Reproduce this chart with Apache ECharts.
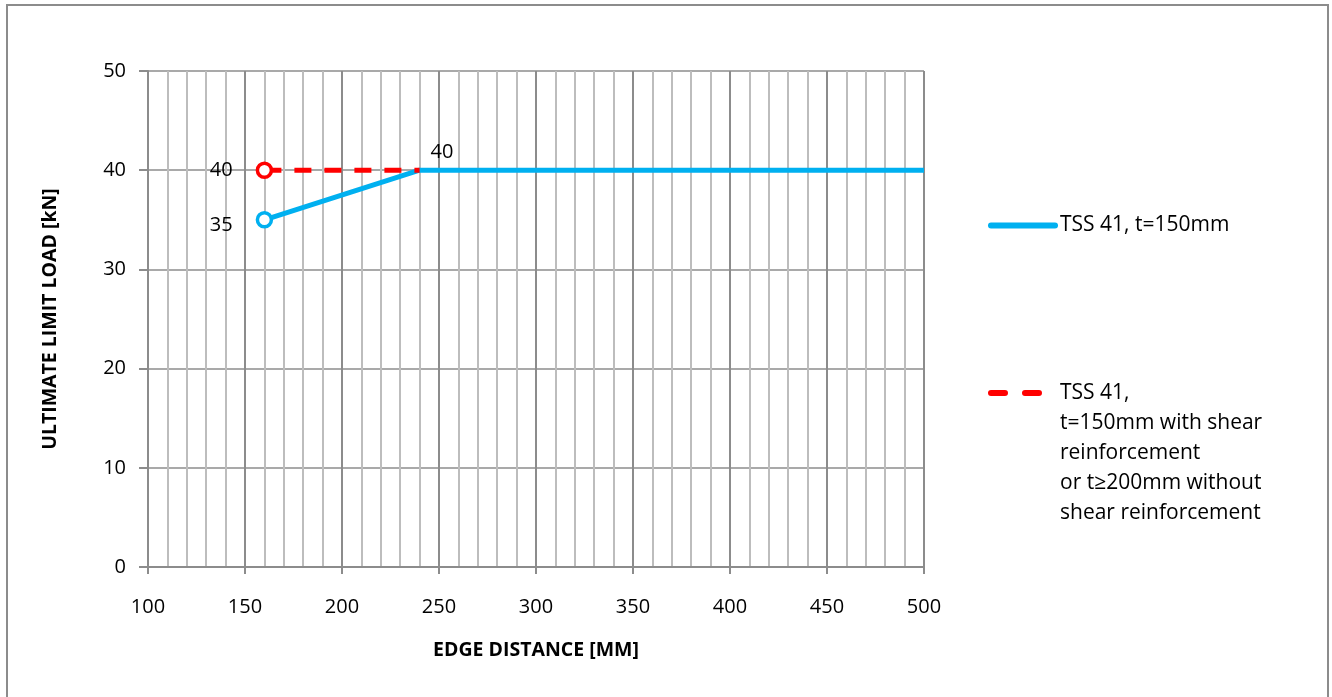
<!DOCTYPE html>
<html>
<head>
<meta charset="utf-8">
<script src="https://cdn.jsdelivr.net/npm/echarts@6/dist/echarts.min.js"></script>
<style>
html,body{margin:0;padding:0;background:#fff;}
#chart{width:1332px;height:697px;}
</style>
</head>
<body>
<div id="chart"></div>
<script>
// ---- data ----
const seriesNames = ['TSS 41, t=150mm', 'TSS 41,\nt=150mm with shear\nreinforcement\nor t\u2265200mm without\nshear reinforcement'];
const blueX = [160, 240, 500];
const blueY = [35, 40, 40];
const redX = [160, 240];
const redY = [40, 40];
const xAxisTitle = 'EDGE DISTANCE [MM]';
const yAxisTitle = 'ULTIMATE LIMIT LOAD [kN]';

const BLUE = '#00B0F0';
const RED = '#FF0000';
const FONT = 'Open Sans';
const GRID_DARK = '#8c8c8c';
const GRID_LIGHT = '#bdbdbd';

function buildData(xs, ys, color, labels) {
  return xs.map((x, i) => {
    const item = { value: [x, ys[i]] };
    if (i === 0) {
      item.symbol = 'circle';
      item.symbolSize = 14;
      item.itemStyle = { color: '#fff', borderColor: color, borderWidth: 3.5 };
    } else if (labels[i]) {
      // invisible anchor so the label can be drawn
      item.symbol = 'circle';
      item.symbolSize = 2;
      item.itemStyle = { color: 'rgba(0,0,0,0)', borderWidth: 0 };
    }
    if (labels[i]) item.label = labels[i];
    return item;
  });
}

const chart = echarts.init(document.getElementById('chart'));
const option = {
  backgroundColor: '#fff',
  animation: false,
  textStyle: { fontFamily: FONT },
  graphic: [{
    type: 'rect',
    shape: { x: 7, y: 5, width: 1321, height: 720 },
    style: { fill: 'none', stroke: '#8c8c8c', lineWidth: 2 },
    silent: true,
    z: -1
  }],
  grid: { left: 148, right: 408, top: 71, bottom: 130, containLabel: false },
  xAxis: {
    type: 'value',
    min: 100, max: 500, interval: 50,
    name: xAxisTitle,
    nameLocation: 'middle',
    nameGap: 73,
    nameTextStyle: { fontFamily: FONT, fontSize: 19.5, fontWeight: 'bold', color: '#000' },
    axisLine: { show: true, lineStyle: { color: GRID_DARK, width: 2 } },
    axisTick: { show: true, length: 7, lineStyle: { color: GRID_DARK, width: 2 } },
    axisLabel: { margin: 30, fontFamily: FONT, fontSize: 20, color: '#000' },
    splitLine: { show: true, lineStyle: { color: GRID_DARK, width: 2 } },
    minorTick: { show: false, splitNumber: 5 },
    minorSplitLine: { show: true, lineStyle: { color: GRID_LIGHT, width: 2 } }
  },
  yAxis: {
    type: 'value',
    min: 0, max: 50, interval: 10,
    name: yAxisTitle,
    nameLocation: 'middle',
    nameGap: 88,
    nameTextStyle: { fontFamily: FONT, fontSize: 19.5, fontWeight: 'bold', color: '#000' },
    axisLine: { show: true, lineStyle: { color: GRID_DARK, width: 2 } },
    axisTick: { show: true, length: 9, lineStyle: { color: GRID_DARK, width: 2 } },
    axisLabel: { margin: 22, fontFamily: FONT, fontSize: 20, color: '#000' },
    splitLine: { show: true, lineStyle: { color: GRID_DARK, width: 1.5 } }
  },
  legend: [{
    data: [{ name: seriesNames[0] }],
    left: 983, top: 210,
    orient: 'vertical',
    itemWidth: 64, itemHeight: 14,
    itemStyle: { opacity: 0 },
    lineStyle: { width: 6, cap: 'round' },
    textStyle: { fontFamily: FONT, fontSize: 21, color: '#000' },
    selectedMode: false
  }, {
    data: [{ name: seriesNames[1] }],
    left: 983, top: 253,
    orient: 'vertical',
    itemWidth: 64, itemHeight: 14,
    itemStyle: { opacity: 0 },
    lineStyle: { width: 6, type: [14, 20], cap: 'round' },
    formatter: function (name) { return '\n\n\n\n' + name; },
    textStyle: { fontFamily: FONT, fontSize: 21, lineHeight: 30, color: '#000' },
    selectedMode: false
  }],
  series: [{
    name: seriesNames[0],
    type: 'line',
    color: BLUE,
    symbol: 'none',
    showSymbol: true,
    lineStyle: { color: BLUE, width: 5 },
    z: 3,
    data: buildData(blueX, blueY, BLUE, [
      { show: true, position: 'left', distance: 23, offset: [0, 5], formatter: '{@[1]}', fontFamily: FONT, fontSize: 20, color: '#000' },
      { show: true, position: 'right', distance: 10, offset: [0, -18], formatter: '{@[1]}', fontFamily: FONT, fontSize: 20, color: '#000' },
      null
    ])
  }, {
    name: seriesNames[1],
    type: 'line',
    color: RED,
    symbol: 'none',
    showSymbol: true,
    lineStyle: { color: RED, width: 5, type: [17, 13] },
    z: 4,
    data: buildData(redX, redY, RED, [
      { show: true, position: 'left', distance: 23, formatter: '{@[1]}', fontFamily: FONT, fontSize: 20, color: '#000' },
      null
    ])
  }]
};
chart.setOption(option);
</script>
</body>
</html>
